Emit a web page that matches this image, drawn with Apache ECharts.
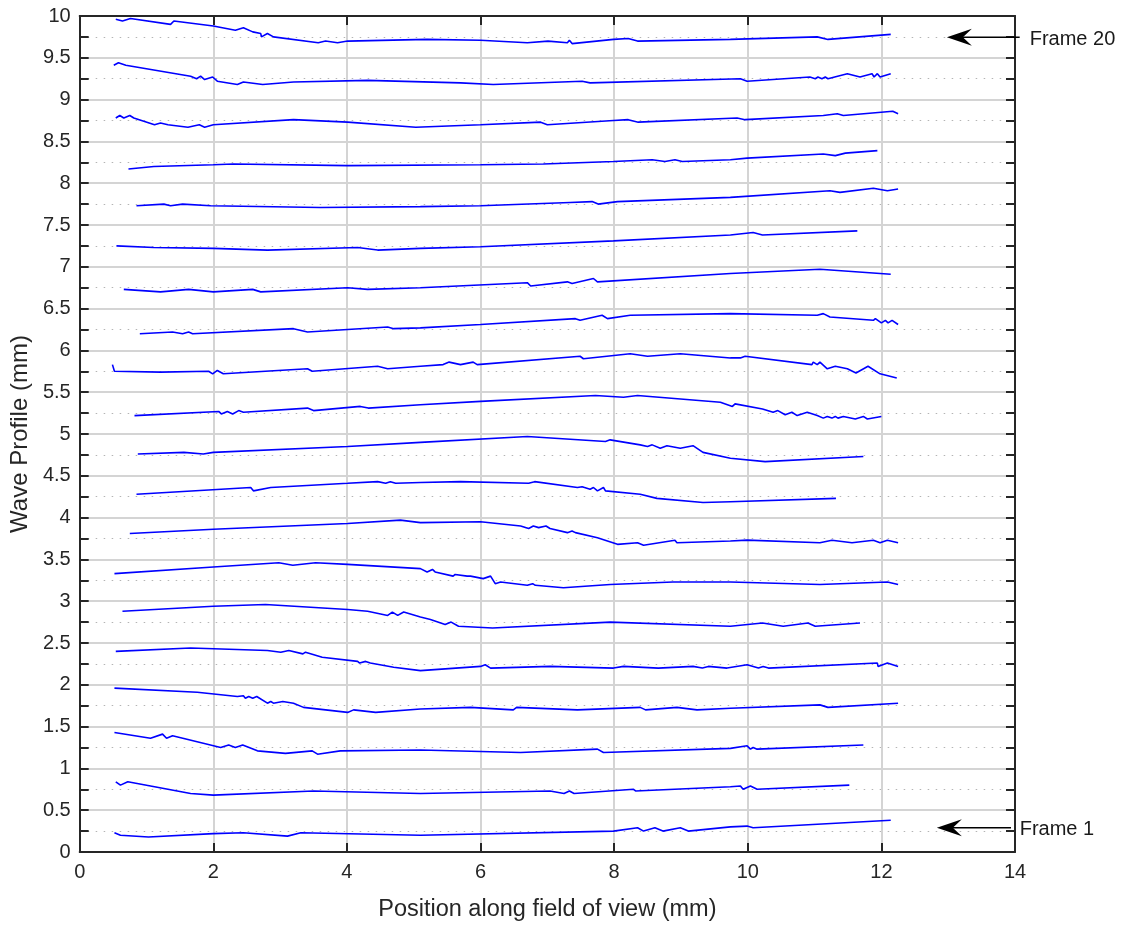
<!DOCTYPE html>
<html>
<head>
<meta charset="utf-8">
<script src="https://cdn.jsdelivr.net/npm/echarts@6/dist/echarts.min.js"></script>
<style>
html,body{margin:0;padding:0;background:#fff;}
#chart{width:1130px;height:927px;}
</style>
</head>
<body>
<div id="chart"></div>
<script>
// ---- data (x in mm, y in mm) ----
const frame01 = [[0.52,0.23],[0.61,0.20],[1.03,0.18],[2.0,0.22],[2.45,0.23],[3.11,0.19],[3.31,0.23],[5.10,0.20],[7.99,0.25],[8.35,0.29],[8.44,0.25],[8.61,0.29],[8.73,0.25],[8.99,0.29],[9.11,0.25],[9.74,0.30],[9.99,0.31],[10.08,0.29],[12.14,0.38]];
const frame02 = [[0.54,0.84],[0.61,0.80],[0.72,0.84],[1.66,0.70],[2.0,0.68],[3.50,0.73],[5.10,0.70],[7.04,0.73],[7.25,0.70],[7.33,0.73],[7.40,0.70],[8.29,0.75],[8.32,0.73],[9.74,0.78],[9.89,0.79],[9.93,0.75],[10.04,0.79],[10.14,0.75],[11.52,0.80]];
const frame03 = [[0.52,1.43],[1.06,1.36],[1.24,1.41],[1.30,1.36],[1.39,1.39],[2.11,1.25],[2.23,1.28],[2.33,1.25],[2.44,1.28],[2.66,1.21],[3.08,1.18],[3.48,1.21],[3.56,1.17],[3.90,1.21],[5.10,1.22],[6.60,1.19],[7.75,1.23],[7.84,1.19],[9.74,1.24],[9.99,1.27],[10.04,1.23],[10.08,1.25],[10.14,1.23],[11.73,1.28]];
const frame04 = [[0.52,1.96],[1.76,1.91],[2.36,1.86],[2.45,1.87],[2.48,1.84],[2.53,1.86],[2.59,1.84],[2.65,1.86],[2.81,1.78],[2.86,1.80],[2.90,1.78],[3.04,1.80],[3.20,1.78],[3.35,1.73],[4.01,1.67],[4.10,1.70],[4.43,1.67],[5.10,1.71],[5.85,1.73],[6.49,1.70],[6.54,1.73],[7.45,1.70],[8.39,1.73],[8.47,1.70],[8.94,1.73],[9.24,1.70],[9.74,1.72],[11.08,1.76],[11.20,1.73],[12.25,1.78]];
const frame05 = [[0.54,2.40],[1.66,2.44],[2.81,2.41],[3.01,2.39],[3.13,2.41],[3.34,2.37],[3.38,2.39],[3.63,2.33],[4.16,2.28],[4.19,2.26],[4.28,2.28],[4.35,2.26],[4.70,2.21],[5.10,2.17],[6.0,2.22],[6.07,2.24],[6.15,2.20],[7.04,2.22],[7.99,2.20],[8.14,2.22],[8.66,2.20],[9.18,2.22],[9.32,2.20],[9.41,2.22],[9.69,2.20],[9.99,2.24],[10.16,2.20],[10.23,2.22],[10.31,2.20],[11.94,2.26],[11.95,2.22],[12.09,2.26],[12.25,2.22]];
const frame06 = [[0.64,2.88],[2.0,2.94],[2.78,2.96],[4.01,2.90],[4.31,2.88],[4.61,2.83],[4.68,2.87],[4.76,2.83],[4.85,2.87],[5.10,2.81],[5.25,2.78],[5.47,2.72],[5.56,2.75],[5.67,2.70],[6.18,2.68],[7.94,2.75],[9.74,2.70],[10.22,2.74],[10.53,2.70],[10.90,2.74],[11.01,2.70],[11.68,2.74]];
const frame07 = [[0.52,3.33],[2.0,3.41],[2.98,3.46],[3.19,3.43],[3.53,3.46],[4.01,3.44],[5.10,3.39],[5.20,3.35],[5.28,3.38],[5.32,3.35],[5.59,3.30],[5.62,3.32],[5.80,3.30],[5.82,3.31],[5.85,3.30],[6.04,3.27],[6.15,3.30],[6.22,3.21],[6.30,3.23],[6.70,3.19],[6.78,3.21],[6.82,3.19],[7.24,3.16],[7.94,3.20],[8.88,3.23],[9.74,3.23],[11.08,3.20],[12.09,3.23],[12.25,3.20]];
const frame08 = [[0.75,3.81],[2.0,3.86],[4.01,3.93],[4.80,3.97],[5.10,3.94],[6.0,3.95],[6.60,3.90],[6.72,3.87],[6.79,3.90],[6.87,3.88],[6.98,3.90],[7.04,3.87],[7.30,3.82],[7.37,3.84],[7.42,3.82],[7.75,3.76],[8.05,3.68],[8.35,3.70],[8.44,3.67],[8.91,3.73],[8.94,3.70],[9.74,3.72],[9.99,3.73],[11.08,3.70],[11.26,3.73],[11.56,3.70],[11.88,3.73],[11.98,3.70],[12.09,3.73],[12.25,3.70]];
const frame09 = [[0.85,4.28],[2.56,4.36],[2.60,4.32],[2.86,4.36],[4.01,4.41],[4.46,4.43],[4.58,4.41],[4.65,4.43],[4.73,4.41],[5.10,4.42],[5.70,4.43],[6.72,4.41],[6.81,4.43],[7.45,4.36],[7.52,4.37],[7.64,4.34],[7.69,4.36],[7.75,4.32],[7.84,4.36],[7.87,4.32],[8.39,4.28],[8.64,4.23],[9.33,4.18],[9.74,4.19],[11.32,4.23]];
const frame10 = [[0.87,4.76],[1.56,4.78],[1.85,4.76],[2.0,4.78],[4.01,4.85],[5.10,4.90],[6.70,4.97],[7.87,4.91],[7.94,4.93],[8.39,4.87],[8.50,4.85],[8.57,4.87],[8.69,4.83],[8.79,4.86],[8.99,4.83],[9.18,4.86],[9.33,4.78],[9.74,4.71],[10.26,4.67],[11.73,4.73]];
const frame11 = [[0.82,5.22],[2.08,5.27],[2.12,5.24],[2.21,5.27],[2.29,5.24],[2.38,5.28],[2.45,5.26],[3.41,5.31],[3.50,5.28],[4.20,5.33],[4.32,5.31],[5.10,5.35],[6.0,5.39],[7.72,5.46],[8.14,5.44],[8.35,5.46],[9.59,5.38],[9.77,5.33],[9.81,5.36],[10.22,5.30],[10.38,5.26],[10.45,5.28],[10.56,5.23],[10.66,5.26],[10.74,5.22],[10.89,5.26],[11.04,5.22],[11.13,5.19],[11.19,5.21],[11.26,5.19],[11.31,5.21],[11.35,5.19],[11.43,5.21],[11.61,5.18],[11.73,5.21],[11.79,5.18],[12.00,5.21]];
const frame12 = [[0.49,5.83],[0.51,5.81],[0.52,5.75],[1.21,5.74],[1.93,5.75],[1.99,5.72],[2.06,5.76],[2.15,5.72],[3.41,5.78],[3.48,5.75],[4.46,5.81],[4.61,5.78],[5.10,5.81],[5.44,5.83],[5.53,5.86],[5.70,5.83],[5.89,5.86],[5.95,5.83],[7.49,5.93],[7.54,5.90],[8.24,5.96],[8.50,5.93],[8.99,5.96],[9.74,5.91],[9.89,5.91],[9.96,5.93],[10.96,5.83],[10.98,5.86],[11.04,5.83],[11.08,5.86],[11.19,5.78],[11.31,5.81],[11.49,5.78],[11.62,5.73],[11.80,5.81],[11.98,5.72],[12.23,5.67]];
const frame13 = [[0.90,6.20],[1.39,6.22],[1.54,6.20],[1.63,6.22],[1.69,6.20],[3.20,6.26],[3.41,6.22],[4.61,6.28],[4.70,6.26],[5.10,6.27],[6.0,6.31],[7.42,6.38],[7.49,6.36],[7.82,6.42],[7.90,6.38],[8.24,6.42],[9.74,6.44],[11.04,6.42],[11.13,6.44],[11.23,6.40],[11.88,6.36],[11.91,6.38],[12.0,6.33],[12.06,6.36],[12.10,6.33],[12.16,6.36],[12.25,6.31]];
const frame14 = [[0.66,6.73],[1.21,6.70],[1.63,6.73],[2.0,6.70],[2.59,6.73],[2.71,6.70],[4.01,6.75],[4.31,6.73],[5.10,6.75],[6.70,6.81],[6.75,6.77],[7.30,6.82],[7.37,6.80],[7.69,6.86],[7.75,6.82],[9.74,6.92],[11.08,6.97],[12.14,6.91]];
const frame15 = [[0.55,7.25],[1.11,7.23],[2.0,7.22],[2.81,7.20],[4.16,7.23],[4.46,7.20],[5.10,7.22],[6.0,7.24],[7.99,7.31],[9.74,7.38],[10.08,7.41],[10.22,7.38],[11.64,7.43]];
const frame16 = [[0.85,7.73],[1.26,7.75],[1.36,7.73],[1.54,7.75],[1.96,7.73],[3.60,7.71],[5.10,7.72],[6.0,7.73],[7.34,7.77],[7.67,7.78],[7.76,7.75],[8.05,7.78],[9.74,7.83],[11.23,7.91],[11.38,7.89],[11.88,7.94],[12.09,7.91],[12.25,7.93]];
const frame17 = [[0.73,8.17],[1.11,8.20],[2.0,8.22],[2.30,8.23],[4.01,8.21],[6.0,8.22],[6.94,8.23],[7.99,8.26],[8.57,8.28],[8.76,8.26],[8.91,8.28],[9.02,8.26],[9.74,8.28],[9.99,8.30],[11.13,8.35],[11.31,8.33],[11.46,8.36],[11.94,8.39]];
const frame18 = [[0.54,8.78],[0.60,8.81],[0.66,8.78],[0.75,8.81],[0.81,8.78],[1.12,8.70],[1.21,8.72],[1.32,8.70],[1.62,8.67],[1.79,8.70],[1.87,8.67],[2.0,8.70],[3.20,8.76],[4.01,8.73],[5.03,8.67],[6.0,8.70],[6.90,8.73],[7.0,8.70],[7.99,8.75],[8.21,8.76],[8.36,8.73],[9.84,8.78],[9.96,8.76],[11.13,8.81],[11.34,8.83],[11.43,8.81],[12.17,8.86],[12.25,8.83]];
const frame19 = [[0.51,9.41],[0.58,9.44],[0.69,9.41],[1.66,9.28],[1.75,9.25],[1.81,9.28],[1.87,9.24],[1.99,9.27],[2.06,9.22],[2.36,9.18],[2.45,9.21],[2.74,9.18],[3.20,9.21],[4.31,9.23],[5.70,9.20],[6.19,9.18],[7.52,9.22],[7.64,9.20],[9.89,9.25],[9.99,9.22],[10.93,9.27],[11.01,9.25],[11.05,9.27],[11.11,9.25],[11.16,9.27],[11.20,9.25],[11.49,9.31],[11.68,9.27],[11.86,9.31],[11.89,9.27],[11.94,9.31],[11.98,9.27],[12.14,9.31]];
const frame20 = [[0.54,9.96],[0.64,9.94],[0.76,9.97],[1.36,9.90],[1.41,9.94],[2.0,9.88],[2.33,9.83],[2.45,9.86],[2.59,9.81],[2.71,9.79],[2.72,9.75],[2.81,9.79],[2.90,9.75],[3.57,9.68],[3.68,9.70],[3.86,9.68],[4.01,9.70],[5.20,9.72],[6.0,9.71],[6.70,9.68],[7.01,9.70],[7.30,9.68],[7.33,9.71],[7.37,9.67],[7.99,9.72],[8.21,9.73],[8.35,9.70],[9.74,9.72],[11.04,9.75],[11.20,9.72],[12.14,9.78]];

const frames = [frame01,frame02,frame03,frame04,frame05,frame06,frame07,frame08,frame09,frame10,
                frame11,frame12,frame13,frame14,frame15,frame16,frame17,frame18,frame19,frame20];

// annotations: label, y level, arrow tip x, arrow tail x, label x (data units)
const noteLabels = ['Frame 20', 'Frame 1'];
const noteY      = [9.745, 0.29];
const noteTipX   = [12.98, 12.83];
const noteTailX  = [14.07, 13.94];
const noteTextX  = [14.22, 14.07];

const xTitle = 'Position along field of view (mm)';
const yTitle = 'Wave Profile (mm)';

// ---- chart ----
const FONT = "'Liberation Sans', Arial, Helvetica, sans-serif";
const AX = '#262626';
const chart = echarts.init(document.getElementById('chart'), null, {renderer:'canvas'});

const tickCommon = {show:true, inside:true, length:9, lineStyle:{color:AX, width:2}};
const minorCommon = {show:true, splitNumber:2, length:9, lineStyle:{color:AX, width:2}};

const option = {
  animation:false,
  backgroundColor:'#fff',
  grid:{left:79, right:115, top:16, bottom:74, containLabel:false},
  xAxis:[{
    type:'value', min:0, max:14, interval:2, position:'bottom',
    name:xTitle, nameLocation:'middle', nameGap:46,
    nameTextStyle:{fontFamily:FONT, fontSize:23.5, color:AX},
    axisLine:{show:true, onZero:false, lineStyle:{color:AX, width:2}},
    axisTick:tickCommon,
    axisLabel:{fontFamily:FONT, fontSize:20, color:AX, margin:10},
    splitLine:{show:true, lineStyle:{color:'#d4d4d4', width:2}}
  },{
    type:'value', min:0, max:14, interval:2, position:'top',
    axisLine:{show:true, onZero:false, lineStyle:{color:AX, width:2}},
    axisTick:tickCommon,
    axisLabel:{show:false},
    splitLine:{show:false}
  }],
  yAxis:[{
    type:'value', min:0, max:10, interval:0.5, position:'left',
    name:yTitle, nameLocation:'middle', nameGap:43, nameRotate:90,
    nameTextStyle:{fontFamily:FONT, fontSize:24, color:AX},
    axisLine:{show:true, onZero:false, lineStyle:{color:AX, width:2}},
    axisTick:tickCommon,
    minorTick:minorCommon,
    axisLabel:{fontFamily:FONT, fontSize:20, color:AX, margin:9,
      formatter:v => String(Math.round(v*10)/10)},
    splitLine:{show:true, lineStyle:{color:'#d4d4d4', width:2}},
    minorSplitLine:{show:true, lineStyle:{color:'#b4b4b4', width:1.2, type:[1.5,6.5]}}
  },{
    type:'value', min:0, max:10, interval:0.5, position:'right',
    axisLine:{show:true, onZero:false, lineStyle:{color:AX, width:2}},
    axisTick:tickCommon,
    minorTick:minorCommon,
    axisLabel:{show:false},
    splitLine:{show:false}
  }],
  series: frames.map((f,i) => ({
    type:'line', name:'Frame '+(i+1), data:f,
    xAxisIndex:0, yAxisIndex:0,
    showSymbol:false, symbol:'none', smooth:false,
    lineStyle:{color:'#0000ff', width:1.6},
    emphasis:{disabled:true}, silent:true, z:3
  }))
};
chart.setOption(option);

// annotation arrows positioned through the axes
const gfx = [];
noteLabels.forEach((lab, i) => {
  const tip  = chart.convertToPixel({gridIndex:0}, [noteTipX[i], noteY[i]]);
  const tail = chart.convertToPixel({gridIndex:0}, [noteTailX[i], noteY[i]]);
  const txt  = chart.convertToPixel({gridIndex:0}, [noteTextX[i], noteY[i]]);
  const L = 25, W = 8.5, N = 16;
  gfx.push({type:'line', shape:{x1:tip[0]+N, y1:tip[1], x2:tail[0], y2:tail[1]},
            style:{stroke:'#000', lineWidth:1.6}, z:10});
  gfx.push({type:'polygon', shape:{points:[[tip[0],tip[1]],[tip[0]+L,tip[1]-W],[tip[0]+N,tip[1]],[tip[0]+L,tip[1]+W]]},
            style:{fill:'#000'}, z:10});
  gfx.push({type:'text', x:txt[0], y:txt[1]+2,
            style:{text:lab, fill:'#1a1a1a', font:'20px ' + FONT, textAlign:'left', textVerticalAlign:'middle'}, z:10});
});
chart.setOption({graphic:gfx});
</script>
</body>
</html>
